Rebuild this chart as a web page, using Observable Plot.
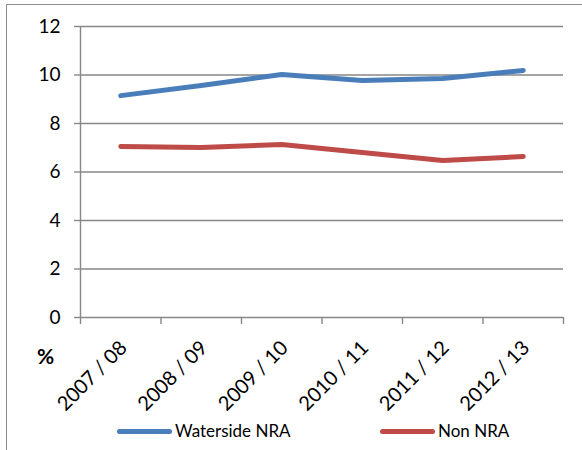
<!DOCTYPE html>
<html><head><meta charset="utf-8">
<script src="https://cdn.jsdelivr.net/npm/d3@7"></script>
<script src="https://cdn.jsdelivr.net/npm/@observablehq/plot@0.6"></script>
<style>
body{margin:0;background:#fff;}
#wrap{position:relative;width:582px;height:450px;overflow:hidden;font-family:Lato,"Open Sans",sans-serif;}
#frame{position:absolute;left:6px;top:4px;width:600px;height:460px;border-left:1.5px solid #8c8c8c;border-top:1.5px solid #8c8c8c;box-sizing:border-box;pointer-events:none;}
#pct{position:absolute;left:37px;top:344px;font-weight:bold;font-size:21px;line-height:24px;color:#000;}
.leg{position:absolute;top:421px;display:flex;align-items:center;font-size:17px;color:#000;line-height:20px;}
.leg .sw{width:55px;height:5px;border-radius:3px;margin-right:3px;}
#chart{position:absolute;left:0;top:0;}
</style></head>
<body>
<div id="wrap"><div id="chart"></div><div id="frame"></div><div id="pct">%</div></div>
<script>
const categories = ["2007 / 08","2008 / 09","2009 / 10","2010 / 11","2011 / 12","2012 / 13"];
const waterside = [9.15, 9.57, 10.02, 9.77, 9.86, 10.19];
const nonNRA = [7.05, 7.01, 7.13, 6.80, 6.47, 6.64];
const seriesNames = ["Waterside NRA","Non NRA"];
const seriesColors = ["#4A7EBB","#BE4B48"];
const yTicks = [0,2,4,6,8,10,12];
const xBounds = [0,1,2,3,4,5,6];

const grid = "#878787";
const chart = Plot.plot({
  width: 582, height: 450,
  marginLeft: 80, marginRight: 19, marginTop: 26, marginBottom: 133,
  style: {fontFamily: "Lato, 'Open Sans', sans-serif", background: "transparent"},
  x: {domain: [0, 6], axis: null},
  y: {domain: [0, 12], axis: null},
  marks: [
    Plot.ruleY(yTicks, {stroke: grid, strokeWidth: 1.4}),
    Plot.ruleX([0], {stroke: grid, strokeWidth: 1.4}),
    Plot.axisY({ticks: yTicks, tickSize: 6, tickPadding: 14, fontSize: 19, stroke: grid, strokeWidth: 1.4, fill: "#000", label: null}),
    Plot.axisX({ticks: xBounds, tickSize: 7, tickFormat: () => "", stroke: grid, strokeWidth: 1.4, label: null}),
    Plot.text(categories, {x: (d, i) => i + 0.5, y: () => 0, text: d => d, rotate: -45, textAnchor: "end", fontSize: 20, dx: 3, dy: 27, fill: "#000"}),
    Plot.lineY(waterside, {x: (d, i) => i + 0.5, y: d => d, stroke: seriesColors[0], strokeWidth: 5, strokeLinecap: "round", strokeLinejoin: "round"}),
    Plot.lineY(nonNRA, {x: (d, i) => i + 0.5, y: d => d, stroke: seriesColors[1], strokeWidth: 5, strokeLinecap: "round", strokeLinejoin: "round"})
  ]
});
document.getElementById("chart").appendChild(chart);

const legLefts = [117, 380];
seriesNames.forEach((n, i) => {
  const el = document.createElement("div");
  el.className = "leg";
  el.style.left = legLefts[i] + "px";
  el.innerHTML = `<span class="sw" style="background:${seriesColors[i]}"></span><span>${n}</span>`;
  document.getElementById("wrap").appendChild(el);
});
</script>
</body></html>
